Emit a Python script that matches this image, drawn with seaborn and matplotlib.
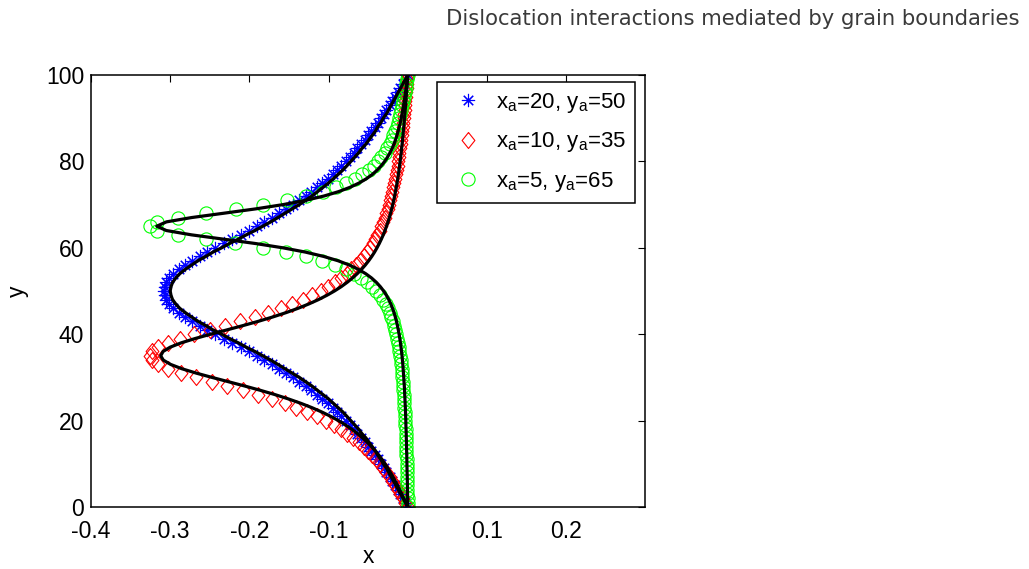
"""Dislocation profiles x(y) for three source positions: simulation markers
plus the analytical solution (black)."""

import matplotlib

matplotlib.use("Agg")
import matplotlib.pyplot as plt
import pandas as pd
import seaborn as sns

# sample heights (one marker per unit of y)
Y_SAMPLES = list(range(0, 101))

# ---- simulation (markers) ---------------------------------------------------
BLUE_MARKERS = [
    0.0, -0.003, -0.006, -0.010, -0.013, -0.016, -0.020, -0.023, -0.027, -0.030,
    -0.034, -0.038, -0.042, -0.046, -0.050, -0.054, -0.059, -0.064, -0.068, -0.073,
    -0.078, -0.084, -0.089, -0.095, -0.101, -0.108, -0.115, -0.122, -0.129, -0.137,
    -0.145, -0.154, -0.163, -0.172, -0.181, -0.191, -0.201, -0.211, -0.222, -0.232,
    -0.243, -0.253, -0.263, -0.272, -0.281, -0.289, -0.296, -0.301, -0.305, -0.307,
    -0.308,
    -0.307, -0.305, -0.301, -0.296, -0.289, -0.281, -0.272, -0.263, -0.253, -0.243,
    -0.232, -0.222, -0.211, -0.201, -0.191, -0.181, -0.172, -0.163, -0.154, -0.145,
    -0.137, -0.129, -0.122, -0.115, -0.108, -0.101, -0.095, -0.089, -0.084, -0.078,
    -0.073, -0.068, -0.064, -0.059, -0.054, -0.050, -0.046, -0.042, -0.038, -0.034,
    -0.030, -0.027, -0.023, -0.020, -0.016, -0.013, -0.010, -0.006, -0.003, 0.0,
]
RED_MARKERS = [
    0.0, -0.0031, -0.0063, -0.0094, -0.0127, -0.0160, -0.0195, -0.0231, -0.0269, -0.0309,
    -0.0352, -0.0398, -0.0447, -0.0500, -0.0557, -0.0620, -0.0688, -0.0763, -0.0846, -0.0937,
    -0.1038, -0.1149, -0.1272, -0.1408, -0.1556, -0.1719, -0.1895, -0.2082, -0.2278, -0.2478,
    -0.2676, -0.2860, -0.3022, -0.3149, -0.3231, -0.3260, -0.3235, -0.3157, -0.3033, -0.2875,
    -0.2695, -0.2502, -0.2306, -0.2113, -0.1930, -0.1759, -0.1601, -0.1456, -0.1325, -0.1207,
    -0.1101, -0.1005, -0.0919, -0.0842, -0.0773, -0.0711, -0.0654, -0.0604, -0.0558, -0.0516,
    -0.0478, -0.0444, -0.0412, -0.0383, -0.0357, -0.0333, -0.0311, -0.0290, -0.0271, -0.0253,
    -0.0237, -0.0222, -0.0208, -0.0194, -0.0182, -0.0170, -0.0159, -0.0149, -0.0139, -0.0130,
    -0.0121, -0.0113, -0.0105, -0.0097, -0.0090, -0.0083, -0.0077, -0.0070, -0.0064, -0.0058,
    -0.0052, -0.0047, -0.0041, -0.0036, -0.0030, -0.0025, -0.0020, -0.0015, -0.0010, -0.0005,
    0.0,
]
GREEN_MARKERS = [
    0.0, -0.0001, -0.0003, -0.0004, -0.0006, -0.0007, -0.0008, -0.0010, -0.0011, -0.0013,
    -0.0014, -0.0016, -0.0018, -0.0019, -0.0021, -0.0023, -0.0025, -0.0027, -0.0029, -0.0031,
    -0.0034, -0.0036, -0.0039, -0.0042, -0.0045, -0.0048, -0.0051, -0.0055, -0.0059, -0.0063,
    -0.0068, -0.0073, -0.0078, -0.0084, -0.0090, -0.0097, -0.0105, -0.0114, -0.0123, -0.0133,
    -0.0145, -0.0158, -0.0173, -0.0189, -0.0208, -0.0229, -0.0253, -0.0281, -0.0314, -0.0351,
    -0.0396, -0.0448, -0.0510, -0.0585, -0.0675, -0.0785, -0.0920, -0.1085, -0.1289, -0.1537,
    -0.1834, -0.2178, -0.2549, -0.2902, -0.3163, -0.3260, -0.3162, -0.2900, -0.2546, -0.2174,
    -0.1829, -0.1530, -0.1281, -0.1077, -0.0910, -0.0774, -0.0663, -0.0572, -0.0496, -0.0432,
    -0.0378, -0.0333, -0.0293, -0.0259, -0.0230, -0.0204, -0.0181, -0.0160, -0.0142, -0.0125,
    -0.0110, -0.0096, -0.0083, -0.0071, -0.0060, -0.0049, -0.0039, -0.0029, -0.0019, -0.0009,
    0.0,
]

# ---- analytical solution (black lines) --------------------------------------
BLUE_LINE = [
    0.0, -0.003, -0.006, -0.009, -0.012, -0.015, -0.018, -0.021, -0.024, -0.027,
    -0.031, -0.034, -0.038, -0.041, -0.045, -0.049, -0.053, -0.058, -0.062, -0.067,
    -0.072, -0.077, -0.082, -0.088, -0.094, -0.100, -0.107, -0.114, -0.121, -0.129,
    -0.137, -0.146, -0.155, -0.164, -0.173, -0.183, -0.193, -0.204, -0.214, -0.225,
    -0.235, -0.246, -0.255, -0.265, -0.273, -0.281, -0.288, -0.293, -0.297, -0.299,
    -0.300,
    -0.299, -0.297, -0.293, -0.288, -0.281, -0.273, -0.265, -0.255, -0.246, -0.235,
    -0.225, -0.214, -0.204, -0.193, -0.183, -0.173, -0.164, -0.155, -0.146, -0.137,
    -0.129, -0.121, -0.114, -0.107, -0.100, -0.094, -0.088, -0.082, -0.077, -0.072,
    -0.067, -0.062, -0.058, -0.053, -0.049, -0.045, -0.041, -0.038, -0.034, -0.031,
    -0.027, -0.024, -0.021, -0.018, -0.015, -0.012, -0.009, -0.006, -0.003, 0.0,
]
RED_LINE = [
    0.0, -0.0025, -0.0051, -0.0077, -0.0103, -0.0130, -0.0159, -0.0188, -0.0220, -0.0253,
    -0.0288, -0.0326, -0.0367, -0.0411, -0.0460, -0.0513, -0.0571, -0.0636, -0.0707, -0.0787,
    -0.0876, -0.0975, -0.1087, -0.1211, -0.1350, -0.1505, -0.1674, -0.1860, -0.2058, -0.2265,
    -0.2473, -0.2673, -0.2852, -0.2994, -0.3087, -0.3120, -0.3090, -0.3000, -0.2861, -0.2685,
    -0.2489, -0.2283, -0.2080, -0.1884, -0.1703, -0.1536, -0.1385, -0.1250, -0.1129, -0.1022,
    -0.0926, -0.0841, -0.0766, -0.0699, -0.0639, -0.0585, -0.0537, -0.0494, -0.0455, -0.0420,
    -0.0389, -0.0360, -0.0334, -0.0310, -0.0288, -0.0269, -0.0250, -0.0233, -0.0218, -0.0204,
    -0.0190, -0.0178, -0.0166, -0.0156, -0.0146, -0.0136, -0.0127, -0.0119, -0.0111, -0.0104,
    -0.0097, -0.0090, -0.0084, -0.0078, -0.0072, -0.0066, -0.0061, -0.0056, -0.0051, -0.0046,
    -0.0042, -0.0037, -0.0033, -0.0028, -0.0024, -0.0020, -0.0016, -0.0012, -0.0008, -0.0004,
    0.0,
]
GREEN_LINE = [
    0.0, -0.0001, -0.0002, -0.0003, -0.0004, -0.0005, -0.0006, -0.0007, -0.0009, -0.0010,
    -0.0011, -0.0012, -0.0013, -0.0015, -0.0016, -0.0017, -0.0019, -0.0020, -0.0022, -0.0024,
    -0.0025, -0.0027, -0.0029, -0.0031, -0.0034, -0.0036, -0.0039, -0.0041, -0.0044, -0.0048,
    -0.0051, -0.0055, -0.0059, -0.0063, -0.0068, -0.0073, -0.0079, -0.0086, -0.0093, -0.0101,
    -0.0110, -0.0120, -0.0131, -0.0143, -0.0158, -0.0174, -0.0193, -0.0215, -0.0240, -0.0270,
    -0.0305, -0.0347, -0.0397, -0.0457, -0.0531, -0.0623, -0.0737, -0.0880, -0.1062, -0.1291,
    -0.1578, -0.1927, -0.2327, -0.2732, -0.3049, -0.3170, -0.3048, -0.2730, -0.2325, -0.1924,
    -0.1574, -0.1286, -0.1056, -0.0874, -0.0730, -0.0615, -0.0522, -0.0447, -0.0386, -0.0335,
    -0.0292, -0.0256, -0.0225, -0.0198, -0.0175, -0.0155, -0.0138, -0.0122, -0.0108, -0.0095,
    -0.0083, -0.0073, -0.0063, -0.0054, -0.0045, -0.0037, -0.0029, -0.0022, -0.0014, -0.0007,
    0.0,
]

LABELS = [r"$x_a$=20, $y_a$=50", r"$x_a$=10, $y_a$=35", r"$x_a$=5, $y_a$=65"]
X_TICKS = [-0.4, -0.3, -0.2, -0.1, 0, 0.1, 0.2]
X_TICK_LABELS = ["-0.4", "-0.3", "-0.2", "-0.1", "0", "0.1", "0.2"]
Y_TICKS = [0, 20, 40, 60, 80, 100]

HEADER = "Dislocation interactions mediated by grain boundaries"

sns.set_theme(style="white")
plt.rcParams["font.family"] = ["Liberation Sans", "DejaVu Sans"]
plt.rcParams["mathtext.default"] = "regular"
plt.rcParams["axes.unicode_minus"] = False
plt.rcParams["text.color"] = "black"

W, H = 1029, 569
fig = plt.figure(figsize=(W / 100, H / 100), dpi=100)
ax = fig.add_axes([91 / W, 1 - 507 / H, (645.4 - 91) / W, (507 - 75) / H])

# MATLAB-like diamond: a bit taller than wide
diamond = [(0, 1), (0.8, 0), (0, -1), (-0.8, 0), (0, 1)]

marker_styles = [
    dict(marker=(8, 2, 0), markersize=9.5, markeredgecolor="#0000ff",
         markerfacecolor="none", markeredgewidth=0.8, color="#0000ff"),
    dict(marker=diamond, markersize=11.5, markeredgecolor="#ff0000",
         markerfacecolor="none", markeredgewidth=0.8, color="#ff0000"),
    dict(marker="o", markersize=9.5, markeredgecolor="#00ff00",
         markerfacecolor="none", markeredgewidth=0.8, color="#00ff00"),
]

handles = []
for xs, style in zip([BLUE_MARKERS, RED_MARKERS, GREEN_MARKERS], marker_styles):
    df = pd.DataFrame({"x": xs, "y": Y_SAMPLES})
    sns.lineplot(data=df, x="x", y="y", orient="y", sort=False, estimator=None,
                 linestyle="none", ax=ax, **style)
    handles.append(ax.lines[-1])

for xs in [BLUE_LINE, RED_LINE, GREEN_LINE]:
    df = pd.DataFrame({"x": xs, "y": Y_SAMPLES})
    sns.lineplot(data=df, x="x", y="y", orient="y", sort=False, estimator=None,
                 color="black", linewidth=2.3, ax=ax)

ax.set_xlim(-0.4, 0.3)
ax.set_ylim(0, 100)
ax.set_xticks(X_TICKS)
ax.set_xticklabels(X_TICK_LABELS)
ax.set_yticks(Y_TICKS)
ax.tick_params(direction="in", length=5, width=0.8, top=True, right=True,
               labelsize=16.5, colors="black")
ax.tick_params(axis="x", pad=9)
ax.tick_params(axis="y", pad=5)
for sp in ax.spines.values():
    sp.set_visible(True)
    sp.set_color("black")
    sp.set_linewidth(1.1)

ax.set_xlabel("x", fontsize=16.5, color="black")
ax.set_ylabel("y", fontsize=16.5, color="black")
ax.xaxis.set_label_coords(0.5, -0.088)
ax.yaxis.set_label_coords(-0.112, 0.5)

leg = ax.legend(handles, LABELS, loc="upper right",
                bbox_to_anchor=(635 / W, 1 - 82 / H), bbox_transform=fig.transFigure,
                borderaxespad=0, frameon=True, fancybox=False, framealpha=1,
                edgecolor="black", fontsize=16, handlelength=2.0,
                handletextpad=0.25, labelspacing=0.7, borderpad=0.4)
leg.get_frame().set_linewidth(1.1)
for t in leg.get_texts():
    t.set_color("black")

fig.text(1020 / W, 1 - 25 / H, HEADER, ha="right", va="baseline",
         fontsize=15.2, color="#3a3a3a", family="DejaVu Sans")

fig.savefig("out.png", dpi=100)
